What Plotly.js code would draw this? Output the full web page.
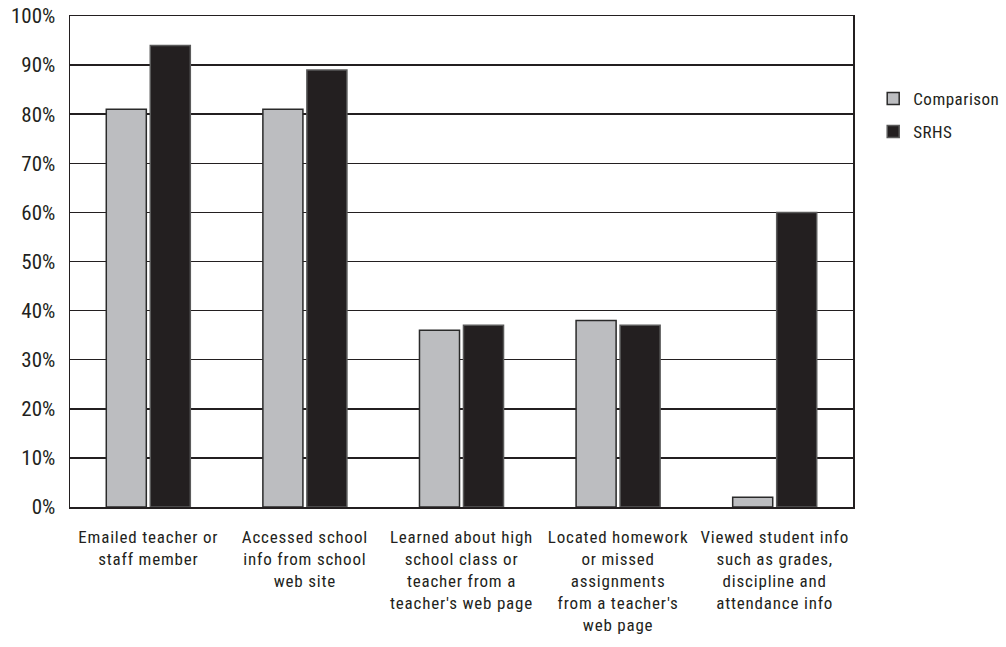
<!DOCTYPE html>
<html>
<head>
<meta charset="utf-8">
<script src="https://cdn.plot.ly/plotly-3.0.1.min.js"></script>
<style>
html,body{margin:0;padding:0;background:#fff;}
#chart{width:1006px;height:647px;}
#chart .xtick text { letter-spacing: 0.8px; }
#chart .legendtext { letter-spacing: 0.5px; }
</style>
</head>
<body>
<div id="chart"></div>
<script>
const categories = [
  "Emailed teacher or<br>staff member",
  "Accessed school<br>info from school<br>web site",
  "Learned about high<br>school class or<br>teacher from a<br>teacher's web page",
  "Located homework<br>or missed<br>assignments<br>from a teacher's<br>web page",
  "Viewed student info<br>such as grades,<br>discipline and<br>attendance info"
];
const comparison = [81, 81, 36, 38, 2];
const srhs = [94, 89, 37, 37, 60];
const yTickVals = [0, 10, 20, 30, 40, 50, 60, 70, 80, 90, 100];
const yTickText = ["0%", "10%", "20%", "30%", "40%", "50%", "60%", "70%", "80%", "90%", "100%"];

const FONT = "'Roboto Condensed', 'DejaVu Sans Condensed', 'Liberation Sans Narrow', 'Arial Narrow', 'Liberation Sans', sans-serif";

const traces = [
  {
    type: "bar", name: "Comparison", x: categories, y: comparison, legendgroup: "a",
    marker: {color: "#BCBDC0", line: {color: "#2a2a2a", width: 1.5}},
    hoverinfo: "skip"
  },
  {
    type: "bar", name: "SRHS", x: categories, y: srhs, legendgroup: "b",
    marker: {color: "#231F20", line: {color: "#5a5a5a", width: 1.5}},
    hoverinfo: "skip"
  }
];

const layout = {
  width: 1006, height: 647,
  margin: {l: 70, r: 153, t: 16, b: 140},
  paper_bgcolor: "#fff", plot_bgcolor: "#fff",
  font: {family: FONT, size: 17, color: "#231F20"},
  barmode: "group", bargap: 0.438, bargroupgap: 0.09,
  showlegend: true,
  legend: {xref: "container", yref: "container", x: 0.868, y: 0.875, xanchor: "left", yanchor: "top",
           font: {family: FONT, size: 17, color: "#231F20"},
           tracegroupgap: 8, itemwidth: 30, bgcolor: "rgba(0,0,0,0)"},
  xaxis: {
    type: "category", showgrid: false, zeroline: false,
    showline: true, linecolor: "#231F20", linewidth: 1.5, mirror: true,
    ticks: "", ticklabelstandoff: 14,
    tickfont: {family: FONT, size: 17, color: "#231F20"},
    tickangle: 0
  },
  yaxis: {
    range: [0, 100], tickvals: yTickVals, ticktext: yTickText,
    showgrid: true, gridcolor: "#231F20", gridwidth: 1.5,
    zeroline: false, showline: true, linecolor: "#231F20", linewidth: 1.5, mirror: true,
    ticks: "", ticklabelstandoff: 9,
    tickfont: {family: FONT, size: 21, color: "#231F20"}
  }
};

Plotly.newPlot("chart", traces, layout, {displayModeBar: false, staticPlot: true});
</script>
</body>
</html>
